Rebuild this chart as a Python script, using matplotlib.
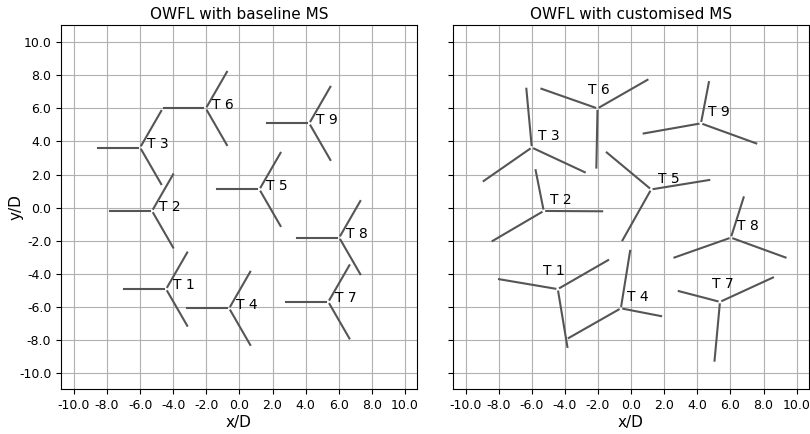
import numpy as np
import matplotlib
matplotlib.use('Agg')
import matplotlib.pyplot as plt

#%% Data
turbines = ['T 1', 'T 2', 'T 3', 'T 4', 'T 5', 'T 6', 'T 7', 'T 8', 'T 9']
turb_x = [-4.43, -5.28, -6.00, -0.62, 1.21, -2.03, 5.37, 6.03, 4.22]
turb_y = [-4.92, -0.20, 3.63, -6.08, 1.10, 5.99, -5.69, -1.81, 5.09]

# baseline mooring: same three headings for every turbine
base_angles = [180.0, 60.0, -60.0]
base_radius = 2.55

# customised mooring: anchor positions (x/D, y/D), three per turbine
custom_anchor_x = [
    [-7.98, -1.39, -3.85],
    [-5.77, -1.75, -8.37],
    [-6.33, -8.91, -2.80],
    [-0.06, 1.81, -3.77],
    [-1.47, 4.72, -0.52],
    [-5.42, 0.99, -2.10],
    [2.88, 8.57, 5.04],
    [6.80, 2.62, 9.33],
    [4.70, 0.76, 7.56],
]
custom_anchor_y = [
    [-4.32, -3.17, -8.41],
    [2.26, -0.22, -2.01],
    [7.18, 1.61, 2.14],
    [-2.61, -6.55, -7.87],
    [3.33, 1.67, -1.97],
    [7.18, 7.72, 2.42],
    [-5.04, -4.22, -9.24],
    [0.62, -3.01, -3.01],
    [7.58, 4.48, 3.88],
]

ticks = np.arange(-10, 11, 2)
tick_labels = [f'{t:.1f}' for t in ticks]

#%% Layout / style
line_col = '#555555'
fairlead_r = 0.15
base_label_off = (1.05, 0.22)
custom_label_off = [(-0.25, 1.08), (1.01, 0.66), (1.0, 0.70), (1.0, 0.66), (1.07, 0.64),
                    (0.11, 1.09), (0.15, 1.05), (1.0, 0.70), (1.06, 0.66)]


def draw_mooring(ax, cx, cy, ax_pts, ay_pts):
    for px, py in zip(ax_pts, ay_pts):
        d = np.hypot(px - cx, py - cy)
        ux, uy = (px - cx) / d, (py - cy) / d
        ax.plot([cx + fairlead_r * ux, px], [cy + fairlead_r * uy, py],
                color=line_col, lw=1.5, zorder=3)


fig = plt.figure(figsize=(8.1, 4.34), dpi=100)
ax1 = fig.add_axes([61 / 810, 44.7 / 434, 356 / 810, 364.3 / 434])
ax2 = fig.add_axes([452.7 / 810, 44.7 / 434, 356 / 810, 364.3 / 434])

# baseline
for i, name in enumerate(turbines):
    cx, cy = turb_x[i], turb_y[i]
    angs = np.deg2rad(base_angles)
    draw_mooring(ax1, cx, cy, cx + base_radius * np.cos(angs), cy + base_radius * np.sin(angs))
    ax1.text(cx + base_label_off[0], cy + base_label_off[1], name,
             ha='center', va='center', fontsize=10)

# customised
for i, name in enumerate(turbines):
    cx, cy = turb_x[i], turb_y[i]
    draw_mooring(ax2, cx, cy, custom_anchor_x[i], custom_anchor_y[i])
    ax2.text(cx + custom_label_off[i][0], cy + custom_label_off[i][1], name,
             ha='center', va='center', fontsize=10)

for ax in (ax1, ax2):
    ax.set_xlim(-10.78, 10.73)
    ax.set_ylim(-10.97, 11.03)
    ax.set_xticks(ticks)
    ax.set_xticklabels(tick_labels, fontsize=9)
    ax.set_yticks(ticks)
    ax.grid(True, color='#b0b0b0', lw=0.8)
    ax.set_axisbelow(True)
    ax.set_xlabel('x/D', fontsize=11, labelpad=2)

ax1.set_yticklabels(tick_labels, fontsize=9)
ax2.set_yticklabels([])
ax1.set_ylabel('y/D', fontsize=11, labelpad=-3)
ax1.set_title('OWFL with baseline MS', fontsize=11, pad=4)
ax2.set_title('OWFL with customised MS', fontsize=11, pad=4)

fig.savefig('out.png', dpi=100)
